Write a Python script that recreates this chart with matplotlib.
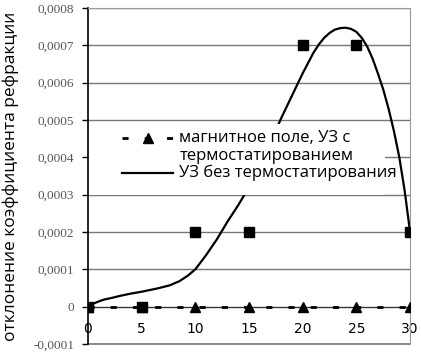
import matplotlib
matplotlib.use("Agg")
import matplotlib.pyplot as plt
from matplotlib.lines import Line2D
from matplotlib.patches import Rectangle

# measured points (squares) - ultrasound without thermostat
x_pts = [0, 5, 10, 15, 20, 25, 30]
y_sq = [0, 0, 0.0002, 0.0002, 0.0007, 0.0007, 0.0002]
# magnetic field, US with thermostat (triangles)
y_tri = [0, 0, 0, 0, 0, 0, 0]

# trend curve
x_curve = [0, 0.5, 1, 1.5, 2.3, 3, 4, 5, 5.5, 6.5, 7.6, 8.5, 9.3, 10, 11, 12,
           13, 14, 15, 16, 17, 18, 19, 20, 21, 21.5, 22, 22.5, 23, 23.5, 24,
           24.5, 25, 25.5, 26, 26.5, 27, 27.5, 28, 28.5, 29, 29.5, 30]
y_curve = [0, 0.000008, 0.000014, 0.000019, 0.000024, 0.000029, 0.000035,
           0.00004, 0.000043, 0.000049, 0.000057, 0.000068, 0.000083,
           0.0001, 0.000138, 0.00018, 0.000228, 0.000272, 0.00032, 0.00038,
           0.00044, 0.000505, 0.000565, 0.000625, 0.00068, 0.000702,
           0.00072, 0.000733, 0.000742, 0.000746, 0.000747, 0.000744,
           0.000736, 0.00072, 0.000697, 0.000665, 0.000625, 0.000582,
           0.00053, 0.00047, 0.0004, 0.00031, 0.0002]

xticks = [0, 5, 10, 15, 20, 25, 30]
yticks = [-0.0001, 0, 0.0001, 0.0002, 0.0003, 0.0004, 0.0005, 0.0006, 0.0007, 0.0008]
ytick_labels = ["-0,0001", "0", "0,0001", "0,0002", "0,0003", "0,0004",
                "0,0005", "0,0006", "0,0007", "0,0008"]

label_tri = "магнитное поле, УЗ с\nтермостатированием"
label_line = "УЗ без термостатирования"
ylabel = "отклонение коэффициента рефракции"

fig = plt.figure(figsize=(4.21, 3.53), dpi=100)
ax = fig.add_axes([0.209, 0.0255, 0.765, 0.952])

dash = (0, (2.2, 5.8))
ax.plot(x_pts, y_tri, color="black", lw=2, linestyle=dash, marker="^",
        markersize=7, zorder=3)
ax.plot(x_pts, y_sq, linestyle="none", marker="s", color="black",
        markersize=7, zorder=4)
ax.plot(x_curve, y_curve, color="black", lw=1.6, zorder=3)

ax.set_xlim(0, 30)
ax.set_ylim(-0.0001, 0.0008)
ax.set_yticks(yticks)
ax.set_yticklabels(ytick_labels, family="Liberation Serif", fontsize=9.5, color="#555555")
ax.set_xticks(xticks)
ax.set_xticklabels([str(v) for v in xticks], family="Liberation Serif", fontsize=9.5, color="#555555")
ax.tick_params(axis="y", length=4, width=1, pad=6)
ax.tick_params(axis="x", length=0, pad=11)
ax.grid(axis="y", color="#777777", lw=1)
ax.set_axisbelow(True)

ax.spines["bottom"].set_position(("data", 0))
ax.spines["bottom"].set_color("#333333")
ax.spines["left"].set_color("black")
ax.spines["left"].set_linewidth(1.2)
for s in ["top", "right"]:
    ax.spines[s].set_color("#999999")
ax.axhline(-0.0001, color="#777777", lw=1.2, clip_on=False)

ax.set_ylabel(ylabel, family="Open Sans", fontsize=12.5)
ax.yaxis.set_label_coords(-0.215, 0.5)

# legend drawn by hand
ax.add_patch(Rectangle((0.004, 0.443), 0.918, 0.213, transform=ax.transAxes,
                       facecolor="white", edgecolor="none", zorder=5))
ax.add_line(Line2D([0.106, 0.264], [0.613, 0.613], transform=ax.transAxes,
                   color="black", lw=2, linestyle=dash, zorder=6))
ax.add_line(Line2D([0.186], [0.613], transform=ax.transAxes, marker="^",
                   markersize=7, color="black", zorder=6))
ax.add_line(Line2D([0.106, 0.264], [0.509, 0.509], transform=ax.transAxes,
                   color="black", lw=1.6, zorder=6))
ax.text(0.283, 0.586, label_tri, transform=ax.transAxes, family="Open Sans",
        fontsize=12, va="center", linespacing=1.1, zorder=7)
ax.text(0.283, 0.509, label_line, transform=ax.transAxes, family="Open Sans",
        fontsize=12, va="center", zorder=7)

plt.savefig("out.png", dpi=100)
